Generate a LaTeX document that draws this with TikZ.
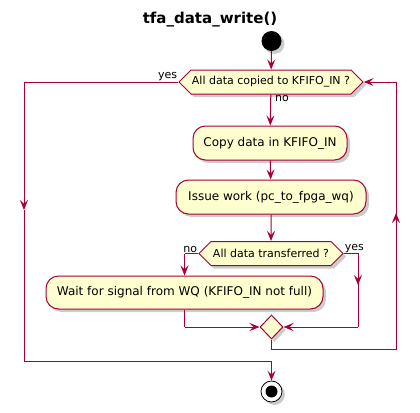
\documentclass[tikz,border=0pt]{standalone}
\usepackage{fontspec}
\setmainfont{DejaVu Sans}
\usetikzlibrary{shapes.geometric,shapes.symbols,arrows.meta,shadows}
\definecolor{umlred}{HTML}{A80036}
\definecolor{umlfill}{HTML}{FEFECE}
\tikzset{
	umlshadow/.style={drop shadow={shadow xshift=3pt,shadow yshift=-3pt,fill=black!40,opacity=0.5}},
	activity/.style={draw=umlred,fill=umlfill,line width=1pt,rounded corners=12.5pt,minimum height=34pt,inner sep=0pt,font=\fontsize{12}{14}\selectfont,umlshadow},
	ifbox/.style={signal,signal to=west and east,signal pointer angle=90,draw=umlred,fill=umlfill,line width=1pt,minimum height=24pt,inner sep=0pt,font=\fontsize{11}{13}\selectfont,umlshadow},
	mergebox/.style={diamond,draw=umlred,fill=umlfill,line width=1pt,minimum width=23pt,minimum height=24pt,inner sep=0pt,umlshadow},
	startdot/.style={circle,fill=black,minimum size=20pt,inner sep=0pt,umlshadow},
	stopdot/.style={circle,draw=black,fill=white,line width=0.8pt,minimum size=21pt,inner sep=0pt,umlshadow,path picture={\fill[black] (path picture bounding box.center) circle (6pt);}},
	wire/.style={draw=umlred,line width=1pt},
	flow/.style={wire,-{Stealth[length=10pt,width=8pt,inset=4pt]}},
	branch/.style={font=\fontsize{11}{13}\selectfont,inner sep=1pt},
}
\begin{document}
\begin{tikzpicture}[x=1pt,y=-1pt]
	\useasboundingbox (0,0) rectangle (420,412);
	\node (title) at (210,20) {\fontsize{15}{18}\selectfont\bfseries tfa\_data\_write()};
	\node[startdot] (start) at (271.5,41) {};
	\node[ifbox,minimum width=184pt] (copied) at (271,82) {All data copied to KFIFO\_IN ?};
	\node[activity,minimum width=154pt] (copy) at (270,143) {Copy data in KFIFO\_IN};
	\node[activity,minimum width=190pt] (issue) at (271,197) {Issue work (pc\_to\_fpga\_wq)};
	\node[ifbox,minimum width=144pt] (done) at (271,253.5) {All data transferred ?};
	\node[activity,minimum width=277pt,minimum height=33pt] (wait) at (184.5,292.5) {Wait for signal from WQ (KFIFO\_IN not full)};
	\node[mergebox] (merge) at (271.5,327) {};
	\node[stopdot] (stop) at (271.5,391.5) {};
	\coordinate (YL) at (24,82);
	\coordinate (YM) at (24,210);
	\coordinate (YB) at (24,361);
	\coordinate (NL) at (184.5,253.5);
	\coordinate (TR) at (358,253.5);
	\coordinate (TM) at (358,285);
	\coordinate (TB) at (358,327);
	\coordinate (WB) at (184.5,327);
	\coordinate (MB) at (271.5,349);
	\coordinate (RB) at (396,349);
	\coordinate (RM) at (396,213);
	\coordinate (RT) at (396,82);
	\draw[flow] (start) to (copied);
	\draw[flow] (copied) to (copy);
	\draw[flow] (copy) to (issue);
	\draw[flow] (issue) to (done);
	\draw[wire] (done.west) to (NL);
	\draw[flow] (NL) to (wait);
	\draw[wire] (done.east) to (TR) to (TM);
	\draw[flow] (TR) to (TM);
	\draw[wire] (TM) to (TB);
	\draw[flow] (TB) to (merge.east);
	\draw[wire] (wait) to (WB);
	\draw[flow] (WB) to (merge.west);
	\draw[wire] (merge) to (MB) to (RB) to (RM);
	\draw[flow] (RB) to (RM);
	\draw[wire] (RM) to (RT);
	\draw[flow] (RT) to (copied.east);
	\draw[wire] (copied.west) to (YL);
	\draw[flow] (YL) to (YM);
	\draw[wire] (YM) to (YB) to (YB -| stop);
	\draw[flow] (YB -| stop) to (stop);
	\node[branch,anchor=south east] at (copied.west) {yes};
	\node[branch,anchor=north west] at ([xshift=3pt]copied.south) {no};
	\node[branch,anchor=south east] at (done.west) {no};
	\node[branch,anchor=south west] at (done.east) {yes};
\end{tikzpicture}
\end{document}
